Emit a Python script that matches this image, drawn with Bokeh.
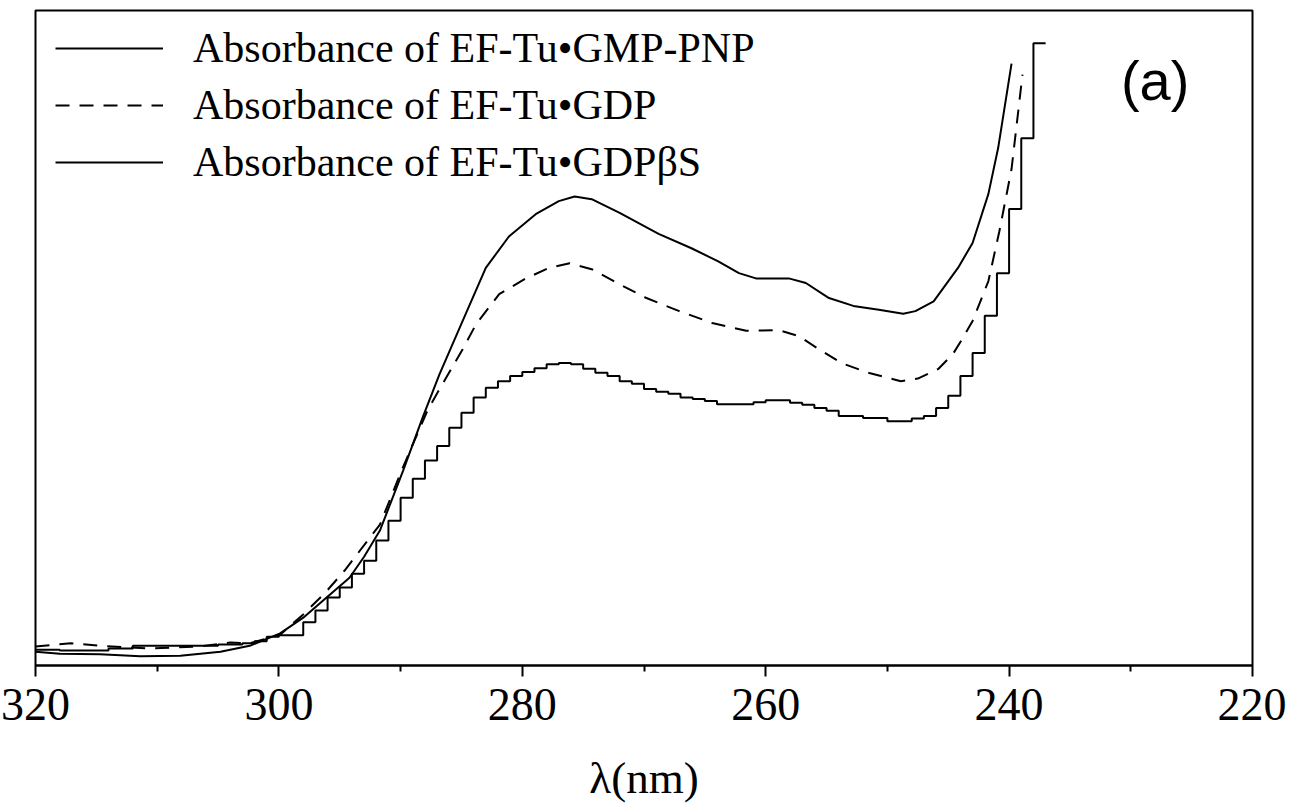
from bokeh.plotting import figure
from bokeh.models import Range1d, FixedTicker, Legend, LegendItem, Label
from bokeh.embed import file_html
from bokeh.resources import INLINE

# ---- data (wavelength in nm, absorbance in arbitrary units) ----
wl_gmppnp = [320.0, 318.0, 314.7, 311.4, 308.1, 304.8, 302.4, 299.9, 298.0, 296.2,
             294.2, 293.0, 291.7, 289.8, 288.2, 286.8, 284.9, 283.0, 281.1, 278.9,
             277.0, 275.7, 274.3, 272.0, 268.8, 266.1, 263.9, 262.2, 260.8, 258.1,
             256.7, 254.8, 252.8, 250.7, 248.7, 247.7, 246.2, 244.2, 243.0, 241.7,
             240.9, 239.8]
abs_gmppnp = [0.021, 0.018, 0.017, 0.014, 0.015, 0.021, 0.030, 0.049, 0.073, 0.102,
              0.134, 0.166, 0.206, 0.297, 0.378, 0.445, 0.526, 0.607, 0.655, 0.689,
              0.709, 0.716, 0.712, 0.691, 0.659, 0.637, 0.617, 0.599, 0.591, 0.591,
              0.584, 0.561, 0.549, 0.543, 0.537, 0.541, 0.556, 0.607, 0.645, 0.720,
              0.790, 0.919]

wl_gdp = [320.0, 317.1, 314.7, 310.6, 306.5, 304.0, 302.4, 299.9, 298.0, 296.2,
          294.6, 291.7, 289.8, 287.8, 286.8, 284.9, 283.8, 281.9, 279.7, 277.8,
          276.1, 274.3, 272.0, 269.8, 267.1, 264.4, 261.6, 258.9, 257.3, 255.8,
          253.8, 251.6, 248.9, 247.5, 245.8, 244.6, 243.8, 243.0, 241.7, 240.8,
          239.8, 238.9]
abs_gdp = [0.029, 0.034, 0.030, 0.026, 0.029, 0.035, 0.034, 0.047, 0.078, 0.111,
           0.145, 0.215, 0.303, 0.389, 0.422, 0.483, 0.521, 0.567, 0.591, 0.607,
           0.614, 0.605, 0.582, 0.561, 0.541, 0.523, 0.511, 0.512, 0.503, 0.485,
           0.462, 0.447, 0.434, 0.438, 0.453, 0.476, 0.500, 0.526, 0.587, 0.663,
           0.758, 0.902]

wl_gdpbs = [320, 319, 318, 317, 316, 315, 314, 313, 312, 311, 310, 309, 308, 307,
            306, 305, 304, 303, 302, 301, 300, 299, 298, 297, 296, 295, 294, 293,
            292, 291, 290, 289, 288, 287, 286, 285, 284, 283, 282, 281, 280, 279,
            278, 277, 276, 275, 274, 273, 272, 271, 270, 269, 268, 267, 266, 265,
            264, 263, 262, 261, 260, 259, 258, 257, 256, 255, 254, 253, 252, 251,
            250, 249, 248, 247, 246, 245, 244, 243, 242, 241, 240, 239, 238, 237]
abs_gdpbs = [0.024, 0.024, 0.023, 0.023, 0.023, 0.023, 0.026, 0.026, 0.030, 0.030,
             0.030, 0.030, 0.030, 0.030, 0.030, 0.032, 0.032, 0.034, 0.037, 0.044,
             0.046, 0.046, 0.066, 0.084, 0.104, 0.119, 0.140, 0.160, 0.191, 0.221,
             0.256, 0.285, 0.313, 0.335, 0.363, 0.386, 0.409, 0.424, 0.434, 0.442,
             0.448, 0.454, 0.460, 0.462, 0.460, 0.453, 0.447, 0.442, 0.434, 0.430,
             0.422, 0.418, 0.415, 0.409, 0.407, 0.404, 0.399, 0.399, 0.399, 0.402,
             0.405, 0.405, 0.401, 0.398, 0.393, 0.389, 0.381, 0.381, 0.378, 0.378,
             0.373, 0.373, 0.377, 0.381, 0.393, 0.412, 0.442, 0.477, 0.534, 0.599,
             0.697, 0.805, 0.950, 0.950]

series_labels = ["Absorbance of EF-Tu\u2022GMP-PNP",
                 "Absorbance of EF-Tu\u2022GDP",
                 "Absorbance of EF-Tu\u2022GDP\u03b2S"]
major_ticks = [320, 300, 280, 260, 240, 220]
minor_ticks = [310, 290, 270, 250, 230]
x_label = "\u03bb(nm)"
panel_tag = "(a)"

SERIF = "Liberation Serif"

p = figure(width=1286, height=805, output_backend="svg", toolbar_location=None,
           x_range=Range1d(320, 220), y_range=Range1d(0, 1.0),
           min_border_left=35, min_border_right=34, min_border_top=10,
           min_border_bottom=140)
p.background_fill_color = "white"
p.border_fill_color = "white"
p.grid.visible = False
p.yaxis.visible = False
p.outline_line_color = "black"
p.outline_line_width = 2

ax = p.xaxis[0]
ax.ticker = FixedTicker(ticks=major_ticks, minor_ticks=minor_ticks)
ax.axis_line_color = "black"
ax.axis_line_width = 2
ax.major_tick_in = 0
ax.major_tick_out = 11
ax.major_tick_line_width = 2
ax.minor_tick_in = 0
ax.minor_tick_out = 6
ax.minor_tick_line_width = 2
ax.major_label_text_font = SERIF
ax.major_label_text_font_size = "46px"
ax.major_label_text_color = "black"
ax.major_label_standoff = 12
ax.axis_label = x_label
ax.axis_label_text_font = SERIF
ax.axis_label_text_font_size = "45px"
ax.axis_label_text_font_style = "normal"
ax.axis_label_text_color = "black"
ax.axis_label_standoff = 30

r1 = p.line(wl_gmppnp, abs_gmppnp, line_color="black", line_width=2)
r2 = p.line(wl_gdp, abs_gdp, line_color="black", line_width=2, line_dash="14 10")
r3 = p.step(wl_gdpbs, abs_gdpbs, mode="after", line_color="black", line_width=2)

legend = Legend(items=[LegendItem(label=series_labels[0], renderers=[r1]),
                       LegendItem(label=series_labels[1], renderers=[r2]),
                       LegendItem(label=series_labels[2], renderers=[r3])],
                location=(20, 478), margin=0, padding=0, spacing=7,
                glyph_width=108, glyph_height=50, label_height=50,
                label_standoff=30,
                label_text_font=SERIF, label_text_font_size="42px",
                label_text_color="black",
                border_line_color=None, background_fill_alpha=0)
p.add_layout(legend, "center")

tag = Label(x=228.0, y=0.893, text=panel_tag, text_align="center",
            text_baseline="middle", text_font="Liberation Sans",
            text_font_size="56px", text_color="black")
p.add_layout(tag)

open("out.html", "w").write(file_html(p, INLINE))
